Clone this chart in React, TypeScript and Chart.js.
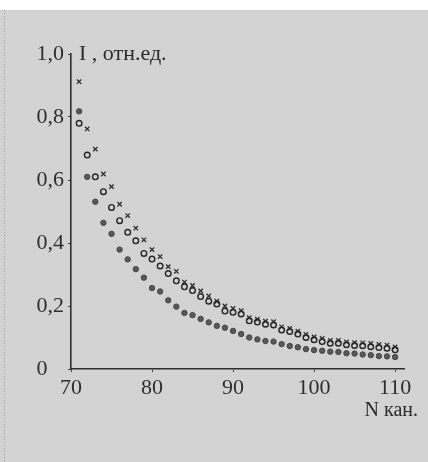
import React, { useEffect, useRef } from "react";
import { Chart, registerables } from "chart.js";

Chart.register(...registerables);

const channels = [
  71, 72, 73, 74, 75, 76, 77, 78, 79, 80,
  81, 82, 83, 84, 85, 86, 87, 88, 89, 90,
  91, 92, 93, 94, 95, 96, 97, 98, 99, 100,
  101, 102, 103, 104, 105, 106, 107, 108, 109, 110,
];

const filledValues = [
  0.818, 0.61, 0.531, 0.464, 0.429, 0.379, 0.348, 0.317, 0.29, 0.257,
  0.246, 0.218, 0.198, 0.178, 0.171, 0.159, 0.148, 0.137, 0.131, 0.121,
  0.111, 0.1, 0.094, 0.089, 0.087, 0.079, 0.073, 0.069, 0.063, 0.06,
  0.058, 0.055, 0.054, 0.05, 0.049, 0.046, 0.044, 0.041, 0.04, 0.038,
];

const circleValues = [
  0.78, 0.679, 0.61, 0.563, 0.513, 0.471, 0.434, 0.407, 0.367, 0.349,
  0.327, 0.303, 0.28, 0.261, 0.249, 0.23, 0.215, 0.206, 0.184, 0.18,
  0.175, 0.153, 0.149, 0.142, 0.14, 0.124, 0.119, 0.111, 0.1, 0.093,
  0.087, 0.082, 0.082, 0.077, 0.075, 0.074, 0.071, 0.068, 0.066, 0.061,
];

const crossValues = [
  0.912, 0.762, 0.698, 0.619, 0.579, 0.523, 0.487, 0.447, 0.41, 0.379,
  0.357, 0.325, 0.31, 0.276, 0.265, 0.248, 0.232, 0.215, 0.2, 0.192,
  0.185, 0.163, 0.158, 0.152, 0.15, 0.134, 0.129, 0.12, 0.11, 0.102,
  0.097, 0.091, 0.091, 0.086, 0.084, 0.083, 0.081, 0.078, 0.076, 0.07,
];

const xTicks = [70, 80, 90, 100, 110];
const yTicks = [0, 0.2, 0.4, 0.6, 0.8, 1.0];

const yTitle = "I , отн.ед.";
const xTitle = "N кан.";

const SERIF = "'Liberation Serif', 'DejaVu Serif', serif";

const toPoints = (vals: number[]) => channels.map((c, i) => ({ x: c, y: vals[i] }));

const backgroundPlugin = {
  id: "paperBg",
  beforeDraw(chart: any) {
    const { ctx, width, height } = chart;
    ctx.save();
    ctx.fillStyle = "#ffffff";
    ctx.fillRect(0, 0, width, height);
    ctx.fillStyle = "#d3d3d3";
    ctx.fillRect(0, 10, width, height - 10);
    ctx.strokeStyle = "#9a9a9a";
    ctx.setLineDash([1, 2]);
    ctx.lineWidth = 1;
    ctx.beginPath();
    ctx.moveTo(4.5, 10);
    ctx.lineTo(4.5, height);
    ctx.stroke();
    ctx.restore();
  },
  afterDraw(chart: any) {
    const { ctx } = chart;
    ctx.save();
    ctx.fillStyle = "#2b2b2b";
    ctx.font = `22px ${SERIF}`;
    ctx.textBaseline = "alphabetic";
    ctx.textAlign = "left";
    ctx.fillText(yTitle, 79, 60);
    ctx.font = `20px ${SERIF}`;
    ctx.textAlign = "right";
    ctx.fillText(xTitle, 418, 416);
    ctx.restore();
  },
};

export default function App() {
  const ref = useRef<HTMLCanvasElement | null>(null);

  useEffect(() => {
    if (!ref.current) return;
    const chart = new Chart(ref.current, {
      type: "scatter",
      data: {
        datasets: [
          {
            label: "filled",
            data: toPoints(filledValues),
            pointStyle: "circle",
            pointRadius: 2.7,
            backgroundColor: "#595959",
            borderColor: "#444444",
            borderWidth: 1,
          },
          {
            label: "open",
            data: toPoints(circleValues),
            pointStyle: "circle",
            pointRadius: 2.8,
            backgroundColor: "rgba(0,0,0,0)",
            borderColor: "#262626",
            borderWidth: 1.4,
          },
          {
            label: "cross",
            data: toPoints(crossValues),
            pointStyle: "crossRot",
            pointRadius: 3.1,
            backgroundColor: "#2e2e2e",
            borderColor: "#2e2e2e",
            borderWidth: 1.3,
          },
        ],
      },
      options: {
        responsive: false,
        animation: false,
        devicePixelRatio: 1,
        layout: { padding: { left: 8, top: 54, right: 24, bottom: 0 } },
        plugins: { legend: { display: false }, tooltip: { enabled: false } },
        scales: {
          x: {
            type: "linear",
            min: 70,
            max: 111.1,
            afterBuildTicks: (scale: any) => {
              scale.ticks = xTicks.map((v) => ({ value: v }));
            },
            afterFit: (scale: any) => {
              scale.height = 93;
            },
            grid: {
              display: true,
              drawOnChartArea: false,
              drawTicks: true,
              tickLength: 3,
              color: "#444444",
            },
            border: { display: true, color: "#2e2e2e", width: 1.6 },
            ticks: {
              autoSkip: false,
              maxRotation: 0,
              padding: 3,
              color: "#2e2e2e",
              font: { family: SERIF, size: 22 },
              callback: (v: any) => String(v),
            },
          },
          y: {
            type: "linear",
            min: 0,
            max: 1,
            afterBuildTicks: (scale: any) => {
              scale.ticks = yTicks.map((v) => ({ value: v }));
            },
            afterFit: (scale: any) => {
              scale.width = 63;
            },
            grid: {
              display: true,
              drawOnChartArea: false,
              drawTicks: true,
              tickLength: 3,
              color: "#444444",
            },
            border: { display: true, color: "#2e2e2e", width: 1.6 },
            ticks: {
              autoSkip: false,
              padding: 4,
              color: "#2e2e2e",
              font: { family: SERIF, size: 22 },
              callback: (v: any) => (Number(v) === 0 ? "0   " : Number(v).toFixed(1).replace(".", ",")),
            },
          },
        },
      },
      plugins: [backgroundPlugin],
    });
    return () => chart.destroy();
  }, []);

  return (
    <div style={{ position: "fixed", left: 0, top: 0, width: 428, height: 462 }}>
      <canvas ref={ref} width={428} height={462} style={{ display: "block" }} />
    </div>
  );
}
